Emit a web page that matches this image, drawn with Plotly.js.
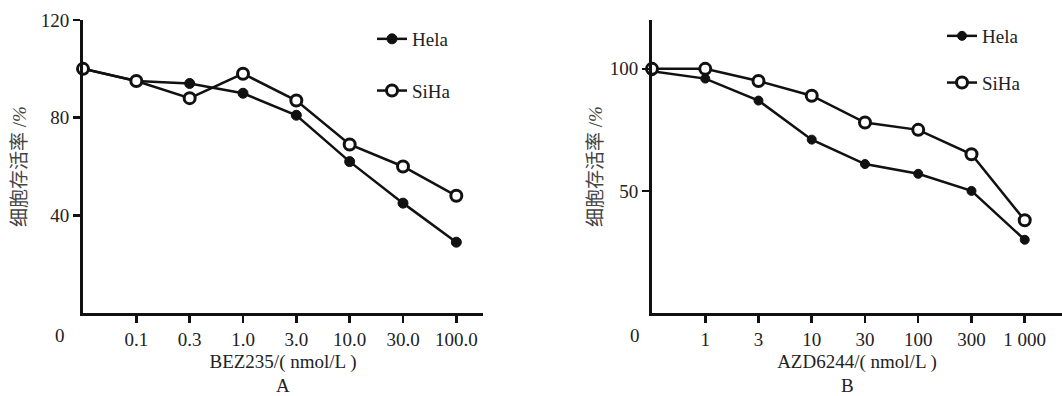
<!DOCTYPE html>
<html>
<head>
<meta charset="utf-8">
<script src="https://cdn.plot.ly/plotly-3.0.1.min.js"></script>
<style>html,body{margin:0;padding:0;background:#fff;}#chart{width:1062px;height:396px;}</style>
</head>
<body>
<div id="chart"></div>
<script>
// Panel A: BEZ235 concentrations (nmol/L)
const catsA = ['0', '0.1', '0.3', '1.0', '3.0', '10.0', '30.0', '100.0'];
const helaA = [100, 95, 94, 90, 81, 62, 45, 29];
const sihaA = [100, 95, 88, 98, 87, 69, 60, 48];
// Panel B: AZD6244 concentrations (nmol/L)
const catsB = ['0', '1', '3', '10', '30', '100', '300', '1 000'];
const helaB = [99, 96, 87, 71, 61, 57, 50, 30];
const sihaB = [100, 100, 95, 89, 78, 75, 65, 38];
const yTicksA = [40, 80, 120];
const yTicksB = [50, 100];
const seriesNames = ['Hela', 'SiHa'];
const xTitleA = 'BEZ235/( nmol/L )';
const xTitleB = 'AZD6244/( nmol/L )';
const yTitle = '细胞存活率 /<i>%</i>';
const panelLabels = ['A', 'B'];

const idx = arr => arr.map((_, i) => i);
const ink = '#111';
const serif = "'Liberation Serif', 'Times New Roman', serif";
const cjk = "'Liberation Serif', 'Noto Sans CJK SC', serif";

function helaTrace(cats, vals, xa, ya, lg, size) {
  return {
    x: idx(cats), y: vals, xaxis: xa, yaxis: ya, legend: lg,
    name: seriesNames[0], legendgroup: lg + 'h', type: 'scatter', mode: 'lines+markers',
    cliponaxis: false,
    line: {color: ink, width: 2.5},
    marker: {symbol: 'circle', size: size, color: ink, line: {color: ink, width: 1}}
  };
}
function sihaTrace(cats, vals, xa, ya, lg) {
  return {
    x: idx(cats), y: vals, xaxis: xa, yaxis: ya, legend: lg,
    name: seriesNames[1], legendgroup: lg + 's', type: 'scatter', mode: 'lines+markers',
    cliponaxis: false,
    line: {color: ink, width: 2.5},
    marker: {symbol: 'circle', size: 11, color: '#fff', line: {color: ink, width: 3}}
  };
}

const data = [
  helaTrace(catsA, helaA, 'x', 'y', 'legend', 10),
  sihaTrace(catsA, sihaA, 'x', 'y', 'legend'),
  helaTrace(catsB, helaB, 'x2', 'y2', 'legend2', 9),
  sihaTrace(catsB, sihaB, 'x2', 'y2', 'legend2')
];

const tickFont = {family: serif, size: 19, color: '#222'};
function xAxis(domain, rng, cats, title, anchor) {
  const t = idx(cats).slice(1);
  return {
    domain: domain, range: rng, anchor: anchor,
    tickvals: t, ticktext: cats.slice(1),
    ticks: 'outside', ticklen: 7, tickwidth: 2.5, tickcolor: ink,
    showline: true, linewidth: 3, linecolor: ink,
    showgrid: false, zeroline: false, tickfont: tickFont,
    title: {text: title, font: {family: serif, size: 19, color: '#222'}, standoff: 6}
  };
}
function yAxis(domain, ticks, anchor, standoff) {
  return {
    domain: domain, range: [0, 120], anchor: anchor,
    tickvals: ticks,
    ticks: 'outside', ticklen: 7, tickwidth: 2.5, tickcolor: ink,
    showline: true, linewidth: 3, linecolor: ink,
    showgrid: false, zeroline: false, tickfont: tickFont,
    title: {text: yTitle, font: {family: cjk, size: 19, color: '#444'}, standoff: standoff}
  };
}
const legendBase = {
  xanchor: 'left', yanchor: 'top', font: {family: serif, size: 19, color: '#222'},
  bgcolor: 'rgba(0,0,0,0)', itemwidth: 30
};

const layout = {
  width: 1062, height: 396,
  margin: {l: 0, r: 0, t: 0, b: 0},
  paper_bgcolor: '#fff', plot_bgcolor: '#fff',
  showlegend: true,
  xaxis: xAxis([83 / 1062, 483 / 1062], [0, 7.5], catsA, xTitleA, 'y'),
  yaxis: yAxis([83 / 396, 376 / 396], yTicksA, 'x', 10),
  xaxis2: xAxis([652 / 1062, 1], [0, 7.7], catsB, xTitleB, 'y2'),
  yaxis2: yAxis([83 / 396, 376 / 396], yTicksB, 'x2', 3),
  legend: Object.assign({x: 372 / 1062, y: 1 - 20 / 396, tracegroupgap: 24}, legendBase),
  legend2: Object.assign({x: 942 / 1062, y: 1 - 17 / 396, tracegroupgap: 19}, legendBase),
  annotations: [
    {xref: 'x', yref: 'y', x: 0, y: 0, text: catsA[0], showarrow: false,
     xshift: -23, yshift: -22, font: tickFont},
    {xref: 'x2', yref: 'y2', x: 0, y: 0, text: catsB[0], showarrow: false,
     xshift: -17, yshift: -22, font: tickFont},
    {xref: 'paper', yref: 'paper', x: 283 / 1062, y: 1 - 385 / 396, text: panelLabels[0],
     xanchor: 'center', yanchor: 'middle', showarrow: false, font: tickFont},
    {xref: 'paper', yref: 'paper', x: 847 / 1062, y: 1 - 385 / 396, text: panelLabels[1],
     xanchor: 'center', yanchor: 'middle', showarrow: false, font: tickFont}
  ]
};

Plotly.newPlot('chart', data, layout, {staticPlot: true, displayModeBar: false});
</script>
</body>
</html>
